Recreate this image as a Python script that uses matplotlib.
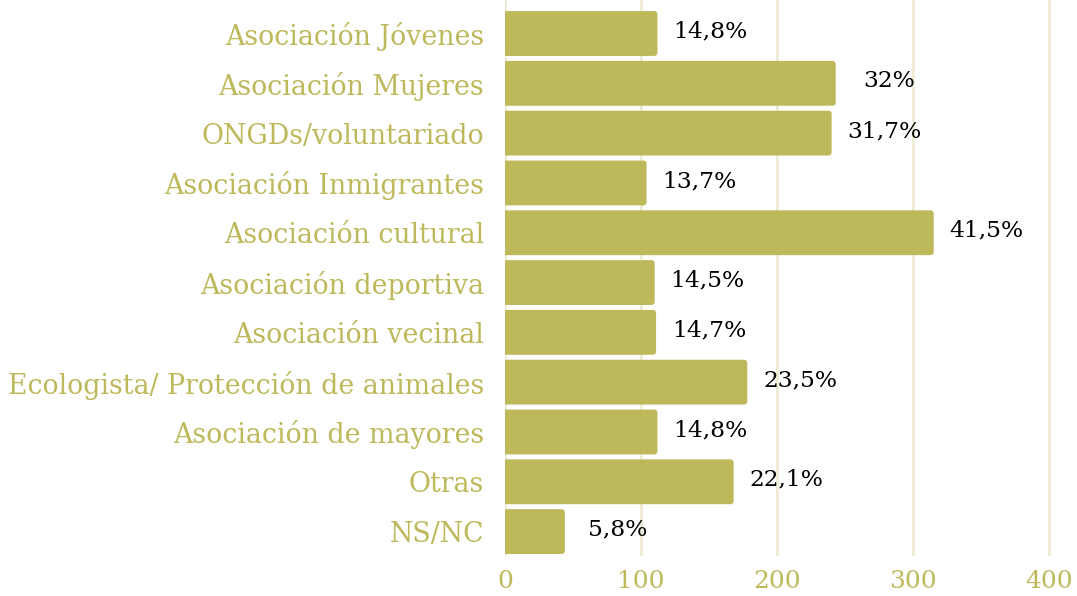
import matplotlib
matplotlib.use("Agg")
import matplotlib.pyplot as plt
from matplotlib.patches import FancyBboxPatch

categories = ["Asociación Jóvenes", "Asociación Mujeres", "ONGDs/voluntariado",
              "Asociación Inmigrantes", "Asociación cultural", "Asociación deportiva",
              "Asociación vecinal", "Ecologista/ Protección de animales",
              "Asociación de mayores", "Otras", "NS/NC"]
counts = [112, 243, 240, 104, 315, 110, 111, 178, 112, 168, 44]
pct_labels = ["14,8%", "32%", "31,7%", "13,7%", "41,5%", "14,5%", "14,7%",
              "23,5%", "14,8%", "22,1%", "5,8%"]
xticks = [0, 100, 200, 300, 400]

BAR = "#BDB85A"
TXT = "#BDB85A"
GRID = "#EEEBD6"

W, H = 1077, 596
left_px, right_px, top_px, bot_px = 505, 1063, 0, 556
fig = plt.figure(figsize=(W/100, H/100), dpi=100)
ax = fig.add_axes([left_px/W, 1-bot_px/H, (right_px-left_px)/W, (bot_px-top_px)/H])

n = len(categories)
ys = list(range(n))
h = 0.9
xmax = 410
ytop, ybot = -0.673, 10.49
ax.set_xlim(0, xmax)
ax.set_ylim(ybot, ytop)

px_per_x = (right_px - left_px) / xmax
px_per_y = (bot_px - top_px) / (ybot - ytop)
r_x = 3.5 / px_per_x
aspect = px_per_x / px_per_y

for y, c in zip(ys, counts):
    # start left of the axis so the left rounded corners are clipped away
    p = FancyBboxPatch((-3 * r_x, y - h/2), c + 3 * r_x, h,
                       boxstyle=f"round,pad=0,rounding_size={r_x}",
                       mutation_aspect=aspect,
                       facecolor=BAR, edgecolor="none", zorder=3)
    ax.add_patch(p)

for y, c, t in zip(ys, counts, pct_labels):
    ax.annotate(t, xy=(c, y), xytext=(53, 2), textcoords="offset pixels",
                ha="center", va="center", fontsize=16.8, color="black",
                family="DejaVu Serif")

ax.set_xticks(xticks)
ax.set_xticklabels([str(v) for v in xticks], fontsize=18, color=TXT, family="DejaVu Serif")
ax.set_yticks(ys)
ax.set_yticklabels(categories, fontsize=19.3, color=TXT, family="DejaVu Serif")
for lbl in ax.get_yticklabels():
    lbl.set_y(lbl.get_position()[1])
ax.tick_params(axis="both", length=0)
ax.tick_params(axis="y", pad=15)
ax.tick_params(axis="x", pad=10)
for s in ax.spines.values():
    s.set_visible(False)
ax.xaxis.grid(True, color=GRID, linewidth=2, zorder=0)
ax.set_axisbelow(True)

fig.savefig("out.png", dpi=100)
